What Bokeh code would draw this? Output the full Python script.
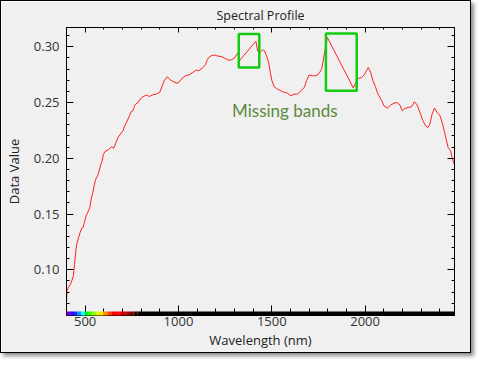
from bokeh.plotting import figure
from bokeh.models import Range1d, LinearAxis, FixedTicker, Label, NumeralTickFormatter
from bokeh.embed import file_html
from bokeh.resources import INLINE

# ---- spectrum data ----
wavelength = [400, 403, 410, 419, 428, 437, 443, 450, 455, 464, 473, 482, 489, 496, 505,
              518, 525, 532, 541, 550, 557, 567, 576, 585, 590, 598, 606, 624, 640, 653,
              663, 676, 689, 703, 712, 721, 735, 747, 756, 765, 770, 783, 795, 809, 828,
              845, 863, 881, 899, 913, 925, 940, 952, 970, 991, 1002, 1020, 1038, 1059, 1077,
              1095, 1109, 1127, 1145, 1152, 1162, 1175, 1193, 1210, 1228, 1246, 1264, 1282, 1300, 1317,
              1329, 1415, 1424, 1433, 1451, 1460, 1472, 1483, 1492, 1501, 1513, 1531, 1549, 1567, 1584,
              1602, 1620, 1638, 1656, 1674, 1686, 1700, 1718, 1736, 1754, 1768, 1777, 1786, 1798,
              1937, 1950, 1964, 1982, 1994, 2007, 2017, 2030, 2042, 2057, 2065, 2074, 2089, 2101, 2119,
              2137, 2155, 2172, 2187, 2199, 2213, 2231, 2249, 2265, 2279, 2294, 2310, 2324, 2336, 2347,
              2359, 2372, 2386, 2400, 2413, 2426, 2436, 2445, 2458, 2466, 2477]
data_value = [0.0707, 0.0812, 0.0841, 0.0865, 0.0900, 0.0946, 0.1050, 0.1170, 0.1230, 0.1284, 0.1335, 0.1374, 0.1380, 0.1424, 0.1484,
              0.1530, 0.1560, 0.1634, 0.1693, 0.1768, 0.1813, 0.1843, 0.1894, 0.1953, 0.1970, 0.2035, 0.2061, 0.2075, 0.2103, 0.2091,
              0.2133, 0.2187, 0.2217, 0.2247, 0.2291, 0.2321, 0.2372, 0.2420, 0.2426, 0.2471, 0.2486, 0.2500, 0.2531, 0.2552, 0.2567,
              0.2554, 0.2570, 0.2576, 0.2590, 0.2650, 0.2701, 0.2731, 0.2710, 0.2689, 0.2674, 0.2680, 0.2719, 0.2740, 0.2749, 0.2770,
              0.2791, 0.2785, 0.2809, 0.2839, 0.2874, 0.2904, 0.2919, 0.2926, 0.2917, 0.2913, 0.2899, 0.2883, 0.2881, 0.2899, 0.2943,
              0.2880, 0.3050, 0.2964, 0.2943, 0.2973, 0.2964, 0.2919, 0.2859, 0.2770, 0.2695, 0.2641, 0.2620, 0.2605, 0.2590, 0.2585,
              0.2560, 0.2576, 0.2576, 0.2605, 0.2635, 0.2695, 0.2746, 0.2740, 0.2740, 0.2761, 0.2805, 0.2890, 0.2979, 0.3083,
              0.2630, 0.2680, 0.2716, 0.2725, 0.2746, 0.2785, 0.2814, 0.2770, 0.2695, 0.2635, 0.2590, 0.2560, 0.2516, 0.2471, 0.2450,
              0.2477, 0.2495, 0.2500, 0.2477, 0.2426, 0.2447, 0.2456, 0.2462, 0.2507, 0.2477, 0.2411, 0.2336, 0.2291, 0.2276, 0.2307,
              0.2396, 0.2450, 0.2411, 0.2387, 0.2321, 0.2231, 0.2157, 0.2097, 0.2067, 0.2007, 0.1948]

# missing-band boxes (wavelength / value extents)
box_left = [1323, 1790]
box_right = [1433, 1955]
box_bottom = [0.2814, 0.2605]
box_top = [0.3114, 0.3119]

# ticks
x_major = [500, 1000, 1500, 2000]
x_minor = [500, 600, 700, 800, 900, 1000, 1100, 1200, 1300, 1400, 1500, 1600, 1700,
           1800, 1900, 2000, 2100, 2200, 2300, 2400]
y_major = [0.10, 0.15, 0.20, 0.25, 0.30]
y_minor = [0.07, 0.08, 0.09, 0.10, 0.11, 0.12, 0.13, 0.14, 0.15, 0.16, 0.17, 0.18, 0.19,
           0.20, 0.21, 0.22, 0.23, 0.24, 0.25, 0.26, 0.27, 0.28, 0.29, 0.30, 0.31]

# visible-spectrum colour strip under the x axis
strip_left = [400, 420, 440, 460, 480, 500, 520, 540, 560, 580, 600, 620, 640, 660, 680,
              700, 720, 740, 760, 780]
strip_right = [420, 440, 460, 480, 500, 520, 540, 560, 580, 600, 620, 640, 660, 680, 700,
               720, 740, 760, 780, 2479]
strip_colors = ["#6900d2", "#2a00ff", "#0033ff", "#0099ff", "#00ffff", "#00ff00", "#49ff00",
                "#92ff00", "#dbff00", "#ffd800", "#ff8900", "#ff3b00", "#ff0000", "#ff0000",
                "#f00000", "#d00000", "#a00000", "#6a0000", "#300000", "#000000"]

BG = "#f0f0f0"
FONT = "Open Sans"

p = figure(width=471, height=353, output_backend="svg", toolbar_location=None,
           x_range=Range1d(400, 2479), y_range=Range1d(0.0590, 0.3173),
           min_border_left=62, min_border_right=18, min_border_top=26, min_border_bottom=39,
           background_fill_color=BG, border_fill_color=BG,
           outline_line_color="black", outline_line_width=1,
           title="Spectral Profile", x_axis_label="Wavelength (nm)", y_axis_label="Data Value")
p.extra_y_ranges = {"strip": Range1d(0, 72)}
p.styles = {"border": "1px solid #000", "box-shadow": "3px 3px 4px rgba(0,0,0,0.45)"}

p.title.align = "center"
p.title.vertical_align = "top"
p.title.text_font = FONT
p.title.text_font_size = "12.5px"
p.title.text_font_style = "normal"
p.title.text_color = "#222222"
p.title.standoff = 3

p.xgrid.visible = False
p.ygrid.visible = False

xt = FixedTicker(ticks=x_major, minor_ticks=x_minor)
yt = FixedTicker(ticks=y_major, minor_ticks=y_minor)

for ax in p.xaxis:
    ax.ticker = xt
    ax.major_tick_in = 10
    ax.major_tick_out = 0
    ax.minor_tick_in = 7
    ax.minor_tick_out = 0
    ax.major_label_standoff = 1
    ax.axis_label_standoff = 2
for ax in p.yaxis:
    ax.ticker = yt
    ax.formatter = NumeralTickFormatter(format="0.00")
    ax.major_tick_in = 7
    ax.major_tick_out = 0
    ax.minor_tick_in = 3
    ax.minor_tick_out = 0
    ax.major_label_standoff = 7
    ax.axis_label_standoff = 8
for ax in list(p.xaxis) + list(p.yaxis):
    ax.axis_line_color = "black"
    ax.major_label_text_font = FONT
    ax.major_label_text_font_size = "13px"
    ax.major_label_text_color = "#333333"
    ax.axis_label_text_font = FONT
    ax.axis_label_text_font_size = "13px"
    ax.axis_label_text_font_style = "normal"
    ax.axis_label_text_color = "#222222"
    ax.major_tick_line_color = "black"
    ax.minor_tick_line_color = "black"

top_ax = LinearAxis(ticker=xt, major_tick_in=5, major_tick_out=0, minor_tick_in=2, minor_tick_out=0,
                    major_label_text_font_size="0px", major_label_text_color=None,
                    major_label_standoff=0, axis_line_color="black")
right_ax = LinearAxis(ticker=yt, major_tick_in=7, major_tick_out=0, minor_tick_in=3, minor_tick_out=0,
                      major_label_text_font_size="0px", major_label_text_color=None,
                      major_label_standoff=0, axis_line_color="black")
p.add_layout(top_ax, "above")
p.add_layout(right_ax, "right")

p.line(wavelength, data_value, line_color="#ff2020", line_width=1)

p.quad(left=box_left, right=box_right, bottom=box_bottom, top=box_top,
       fill_color=None, line_color="#11cc11", line_width=2.5)

p.quad(left=strip_left, right=strip_right, bottom=0, top=1, y_range_name="strip",
       fill_color=strip_colors, line_color=None, level="overlay")

p.add_layout(Label(x=1287, y=0.2425, text="Missing bands", text_font="Lato",
                   text_font_size="17px", text_color="#5b8a3c", text_baseline="middle"))

open("out.html", "w").write(file_html(p, INLINE))
